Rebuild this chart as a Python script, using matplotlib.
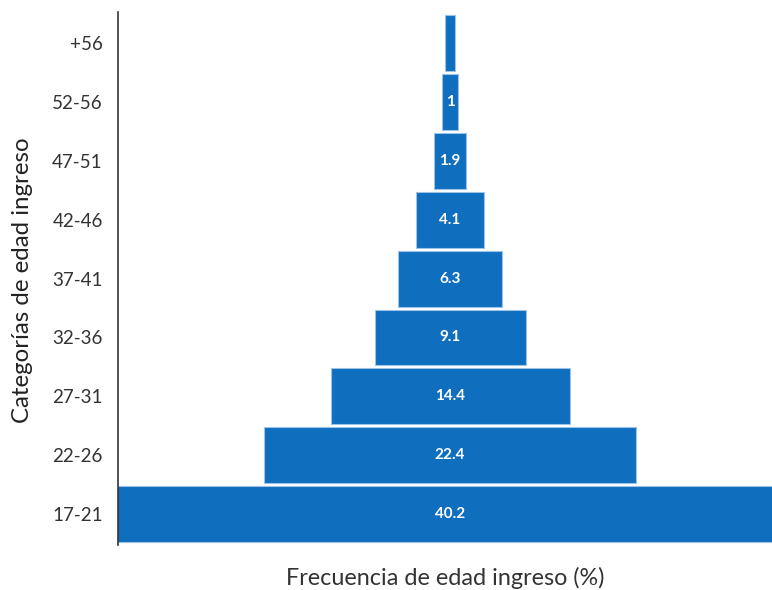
import matplotlib.pyplot as plt

categorias = ["17-21", "22-26", "27-31", "32-36", "37-41", "42-46", "47-51", "52-56", "+56"]
frecuencia = [40.2, 22.4, 14.4, 9.1, 6.3, 4.1, 1.9, 1.0, 0.6]
etiquetas = ["40.2", "22.4", "14.4", "9.1", "6.3", "4.1", "1.9", "1", ""]

plt.rcParams['font.family'] = ['Lato', 'DejaVu Sans']

fig = plt.figure(figsize=(7.72, 5.9), dpi=100)
ax = fig.add_axes([0.153, 0.0763, 0.847, 0.9034])

pos = list(range(len(categorias)))
izq = [-v / 2 for v in frecuencia]
barras = ax.barh(pos, frecuencia, left=izq, height=0.95, color='#0F6EBE',
                 edgecolor='#9CC3E6', linewidth=0.8)

for b, t in zip(barras, etiquetas):
    ax.text(0, b.get_y() + b.get_height() / 2, t, ha='center', va='center',
            color='white', fontsize=11, fontweight='bold')

ax.set_xlim(-20.0, 19.4)
ax.set_ylim(-0.525, 8.53)
ax.set_yticks(pos)
ax.set_yticklabels(categorias, fontsize=13.5, color='#333333')
ax.tick_params(axis='y', length=0, pad=11)
ax.set_xticks([])
for s in ['top', 'right', 'bottom']:
    ax.spines[s].set_visible(False)
ax.spines['left'].set_color('#333333')
ax.spines['left'].set_linewidth(1.2)

ax.set_xlabel('Frecuencia de edad ingreso (%)', fontsize=16.8, color='#333333', labelpad=16)
ax.set_ylabel('Categorías de edad ingreso', fontsize=17.3, color='#222222')
ax.yaxis.set_label_coords(-0.13, 0.497)

fig.savefig('out.png', dpi=100)
